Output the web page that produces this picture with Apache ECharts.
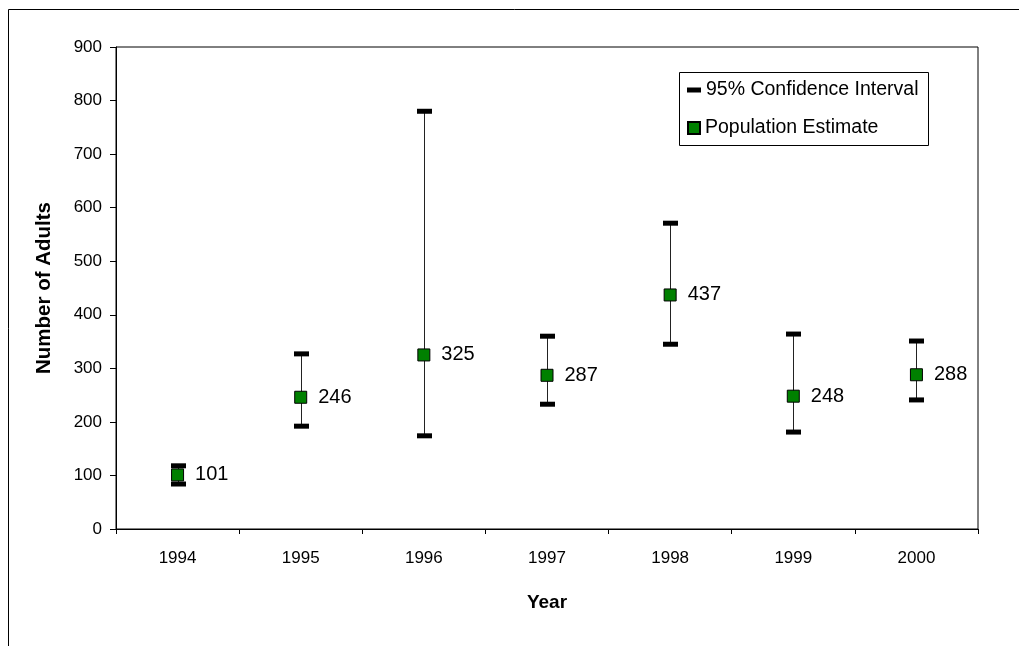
<!DOCTYPE html>
<html><head><meta charset="utf-8">
<script src="https://cdn.jsdelivr.net/npm/echarts@6/dist/echarts.min.js"></script>
<style>html,body{margin:0;padding:0;background:#fff}#c{width:1019px;height:646px}</style>
</head><body><div id="c"></div>
<script>
const years = ['1994','1995','1996','1997','1998','1999','2000'];
const estimates = [101, 246, 325, 287, 437, 248, 288];
const lowerCI = [84, 192, 174, 233, 345, 181, 241];
const upperCI = [118, 327, 780, 360, 571, 364, 351];
const yMin = 0, yMax = 900, yStep = 100;

const F = '"Liberation Sans", Arial, sans-serif';
const ciData = years.map((y, i) => [i, lowerCI[i], upperCI[i]]);
const estData = years.map((y, i) => [i, estimates[i]]);

const chart = echarts.init(document.getElementById('c'), null, {renderer: 'canvas'});
chart.setOption({
  animation: false,
  backgroundColor: '#fff',
  textStyle: {fontFamily: F, color: '#000'},
  grid: {left: 116, right: 41, top: 47, bottom: 117, show: true, borderColor: '#000', borderWidth: 1, backgroundColor: 'transparent'},
  xAxis: {
    type: 'category', data: years, boundaryGap: true,
    axisLine: {show: true, lineStyle: {color: '#000', width: 1}},
    axisTick: {show: true, alignWithLabel: false, length: 5, lineStyle: {color: '#000'}},
    axisLabel: {color: '#000', fontSize: 17, margin: 21, fontFamily: F},
    splitLine: {show: false},
    name: 'Year', nameLocation: 'middle', nameGap: 64,
    nameTextStyle: {fontWeight: 'bold', fontSize: 19, color: '#000', fontFamily: F}
  },
  yAxis: {
    type: 'value', min: yMin, max: yMax, interval: yStep,
    axisLine: {show: true, lineStyle: {color: '#000', width: 1}},
    axisTick: {show: true, length: 6, lineStyle: {color: '#000'}},
    axisLabel: {color: '#000', fontSize: 17, margin: 14, fontFamily: F},
    splitLine: {show: false},
    name: 'Number of Adults', nameLocation: 'middle', nameGap: 61, nameRotate: 90,
    nameTextStyle: {fontWeight: 'bold', fontSize: 20.5, color: '#000', fontFamily: F}
  },
  legend: [
    {data: ['95% Confidence Interval'], left: 687, top: 80, padding: 0, icon: 'rect', itemWidth: 14, itemHeight: 5,
     textStyle: {fontSize: 19.5, color: '#000', fontFamily: F}, selectedMode: false},
    {data: ['Population Estimate'], left: 687, top: 118, padding: 0, icon: 'rect', itemWidth: 12, itemHeight: 12,
     textStyle: {fontSize: 19.5, color: '#000', fontFamily: F}, selectedMode: false}
  ],
  graphic: [
    {type: 'rect', left: 6, top: 7, silent: true, shape: {x: 0.5, y: 0.5, width: 1100, height: 1000}, style: {fill: 'none', stroke: '#000', lineWidth: 1}},
    {type: 'rect', silent: true, shape: {x: 679.5, y: 72.5, width: 249, height: 73}, style: {fill: '#fff', stroke: '#000', lineWidth: 1}, z: -1}
  ],
  series: [
    {
      name: '95% Confidence Interval', type: 'custom',
      itemStyle: {color: '#000'},
      encode: {x: 0, y: [1, 2]},
      data: ciData,
      z: 2,
      renderItem: function (params, api) {
        const x = api.value(0);
        const lo = api.coord([x, api.value(1)]);
        const hi = api.coord([x, api.value(2)]);
        const cx = Math.round(lo[0]) + 0.5;
        const w = 15, h = 5;
        return {
          type: 'group',
          children: [
            {type: 'line', shape: {x1: cx, y1: hi[1], x2: cx, y2: lo[1]}, style: {stroke: '#222', lineWidth: 1}},
            {type: 'rect', shape: {x: cx - w / 2, y: hi[1] - h / 2, width: w, height: h}, style: {fill: '#000'}},
            {type: 'rect', shape: {x: cx - w / 2, y: lo[1] - h / 2, width: w, height: h}, style: {fill: '#000'}}
          ]
        };
      }
    },
    {
      name: 'Population Estimate', type: 'scatter',
      symbol: 'rect', symbolSize: 12,
      itemStyle: {color: '#008000', borderColor: '#000', borderWidth: 1, opacity: 1},
      data: estData,
      z: 3,
      label: {show: true, position: 'right', distance: 11, fontSize: 20, color: '#000', fontFamily: F,
              formatter: p => String(p.value[1])}
    }
  ]
});
</script></body></html>
